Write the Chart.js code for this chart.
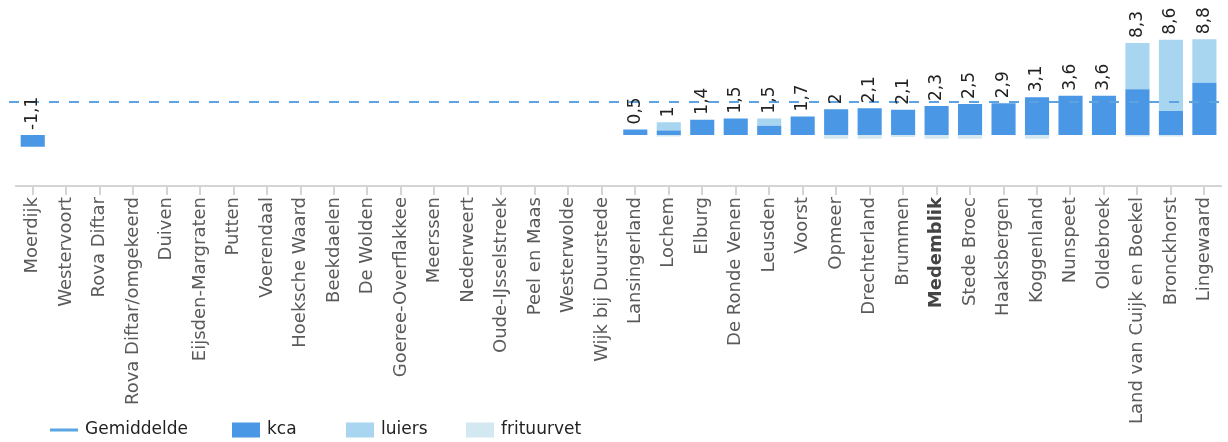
<!DOCTYPE html>
<html lang="nl">
<head>
<meta charset="utf-8">
<script src="https://cdn.jsdelivr.net/npm/chart.js@4"></script>
<style>
  html, body { margin: 0; padding: 0; background: #fff; }
  #wrap { width: 1228px; height: 442px; }
</style>
</head>
<body>
<div id="wrap"><canvas id="grafiek"></canvas></div>
<script>
const gemeenten = [
  'Moerdijk', 'Westervoort', 'Rova Diftar', 'Rova Diftar/omgekeerd', 'Duiven',
  'Eijsden-Margraten', 'Putten', 'Voerendaal', 'Hoeksche Waard', 'Beekdaelen',
  'De Wolden', 'Goeree-Overflakkee', 'Meerssen', 'Nederweert', 'Oude-IJsselstreek',
  'Peel en Maas', 'Westerwolde', 'Wijk bij Duurstede', 'Lansingerland', 'Lochem',
  'Elburg', 'De Ronde Venen', 'Leusden', 'Voorst', 'Opmeer', 'Drechterland',
  'Brummen', 'Medemblik', 'Stede Broec', 'Haaksbergen', 'Koggenland', 'Nunspeet',
  'Oldebroek', 'Land van Cuijk en Boekel', 'Bronckhorst', 'Lingewaard'
];

const kca = [
  -1.1, null, null, null, null, null, null, null, null, null, null, null, null,
  null, null, null, null, null, 0.5, 0.4, 1.4, 1.5, 0.85, 1.7, 2.35, 2.45, 2.3,
  2.65, 2.85, 2.9, 3.45, 3.6, 3.6, 4.2, 2.2, 4.8
];
const luiers = [
  null, null, null, null, null, null, null, null, null, null, null, null, null,
  null, null, null, null, null, null, 0.75, null, null, 0.65, null, null, null,
  null, null, null, null, null, null, null, 4.25, 6.55, 4.0
];
const frituurvet = [
  null, null, null, null, null, null, null, null, null, null, null, null, null,
  null, null, null, null, null, null, -0.15, null, null, null, null, -0.35, -0.35,
  -0.2, -0.35, -0.35, null, -0.35, null, null, -0.15, -0.15, null
];
const gemiddelde = 3.05;
const uitgelicht = 'Medemblik';

const kleuren = {
  kca: '#4a97e6',
  luiers: '#a8d5f0',
  frituurvet: '#d3e8f0',
  gemiddelde: '#5ba3e3'
};
const lettertype = 'DejaVu Sans';

function formatWaarde(v) {
  return (Math.round(v * 10) / 10).toFixed(1).replace(/\.0$/, '').replace('.', ',');
}

// stippellijn voor het gemiddelde, over de volle breedte
const gemiddeldeLijn = {
  id: 'gemiddeldeLijn',
  afterDatasetsDraw(chart) {
    const { ctx, chartArea, scales } = chart;
    const y = Math.round(scales.y.getPixelForValue(gemiddelde));
    ctx.save();
    ctx.strokeStyle = kleuren.gemiddelde;
    ctx.lineWidth = 2;
    ctx.setLineDash([10, 10]);
    ctx.beginPath();
    ctx.moveTo(chartArea.left - 7, y);
    ctx.lineTo(chartArea.right, y);
    ctx.stroke();
    ctx.restore();
  }
};

// totaalwaarde boven elke stapel, gedraaid
const totaalLabels = {
  id: 'totaalLabels',
  afterDatasetsDraw(chart) {
    const { ctx, scales } = chart;
    ctx.save();
    ctx.font = '17px "' + lettertype + '"';
    ctx.fillStyle = '#222';
    ctx.textAlign = 'left';
    ctx.textBaseline = 'middle';
    gemeenten.forEach((g, i) => {
      const delen = [kca[i], luiers[i], frituurvet[i]].filter(v => v !== null);
      if (!delen.length) return;
      const totaal = delen.reduce((a, b) => a + b, 0);
      const boven = delen.filter(v => v > 0).reduce((a, b) => a + b, 0);
      const x = scales.x.getPixelForValue(i);
      const y = scales.y.getPixelForValue(boven);
      ctx.save();
      ctx.translate(x, y - 5);
      ctx.rotate(-Math.PI / 2);
      ctx.fillText(formatWaarde(totaal), 0, 0);
      ctx.restore();
    });
    ctx.restore();
  }
};

// legenda onderaan
const legenda = {
  id: 'legenda',
  afterDraw(chart) {
    const { ctx } = chart;
    const y = 430;
    const items = [
      { tekst: 'Gemiddelde', x: 50, lijn: true, kleur: kleuren.gemiddelde },
      { tekst: 'kca', x: 232, kleur: kleuren.kca },
      { tekst: 'luiers', x: 346, kleur: kleuren.luiers },
      { tekst: 'frituurvet', x: 466, kleur: kleuren.frituurvet }
    ];
    ctx.save();
    ctx.font = '17px "' + lettertype + '"';
    ctx.textBaseline = 'middle';
    ctx.textAlign = 'left';
    items.forEach(it => {
      ctx.fillStyle = it.kleur;
      if (it.lijn) {
        ctx.fillRect(it.x, y - 1.5, 28, 3);
      } else {
        ctx.fillRect(it.x, y - 7.5, 28, 15);
      }
      ctx.fillStyle = '#222';
      ctx.fillText(it.tekst, it.x + 35, y);
    });
    ctx.restore();
  }
};

const grafiek = new Chart(document.getElementById('grafiek'), {
  type: 'bar',
  data: {
    labels: gemeenten,
    datasets: [
      { label: 'kca', data: kca, backgroundColor: kleuren.kca },
      { label: 'luiers', data: luiers, backgroundColor: kleuren.luiers },
      { label: 'frituurvet', data: frituurvet, backgroundColor: kleuren.frituurvet }
    ]
  },
  options: {
    responsive: true,
    maintainAspectRatio: false,
    animation: false,
    datasets: {
      bar: { barPercentage: 0.72, categoryPercentage: 1, borderWidth: 0 }
    },
    layout: { padding: { left: 16, right: 0, top: 0, bottom: 16 } },
    plugins: {
      legend: { display: false },
      tooltip: { enabled: false }
    },
    scales: {
      x: {
        stacked: true,
        // de lange gemeentenamen hebben meer dan de halve hoogte nodig
        afterFit: s => { s.height = 240; },
        grid: {
          offset: false,
          drawOnChartArea: false,
          drawTicks: true,
          tickLength: 9,
          color: '#d4d4d4',
          lineWidth: 2
        },
        border: { color: '#d4d4d4', width: 2 },
        ticks: {
          autoSkip: false,
          minRotation: 90,
          maxRotation: 90,
          padding: 2,
          color: c => gemeenten[c.index] === uitgelicht ? '#444' : '#5a5a5a',
          font: c => ({
            family: lettertype,
            size: 18,
            weight: gemeenten[c.index] === uitgelicht ? 'bold' : 'normal'
          })
        }
      },
      y: {
        stacked: true,
        display: false,
        min: -4.7,
        max: 12.4
      }
    }
  },
  plugins: [gemiddeldeLijn, totaalLabels, legenda]
});
</script>
</body>
</html>
